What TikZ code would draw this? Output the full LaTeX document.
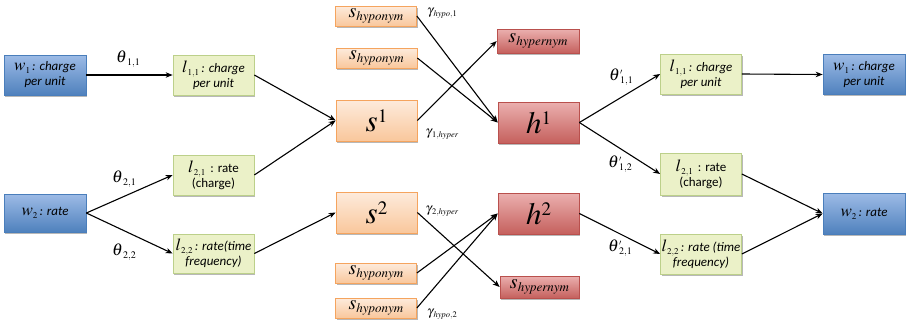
\documentclass[tikz,border=0pt]{standalone}
\usepackage{mathptmx}
\usepackage{fontspec}
\setmainfont{Carlito}
\usetikzlibrary{arrows.meta,shadows}
\definecolor{blueB}{HTML}{4A7EBB}
\definecolor{blueT}{HTML}{9DBBE6}
\definecolor{blueM}{HTML}{4F81BD}
\definecolor{greenB}{HTML}{BCD08A}
\definecolor{greenF}{HTML}{EBF1C8}
\definecolor{orB}{HTML}{F5A45E}
\definecolor{orT}{HTML}{FDEBDC}
\definecolor{orM}{HTML}{F9C79C}
\definecolor{redB}{HTML}{B9504D}
\definecolor{redT}{HTML}{EBB0AF}
\definecolor{redM}{HTML}{C5605D}
% letter with subscript (box labels)
\newcommand\lsub[2]{{\fontsize{17}{17}\selectfont$#1$}\raisebox{-0.45ex}{\fontsize{9}{9}\selectfont$#2$}}
% theta labels
\newcommand\thlab[1]{{\fontsize{17}{17}\selectfont$\theta$}\raisebox{-0.5ex}{\fontsize{10}{10}\selectfont$#1$}}
\newcommand\thplab[1]{{\fontsize{17}{17}\selectfont$\theta$}\makebox[0pt][l]{\raisebox{1.35ex}{\fontsize{8}{8}\selectfont$\prime$}}\raisebox{-0.5ex}{\fontsize{10}{10}\selectfont$#1$}}
% gamma labels
\newcommand\gmlab[1]{{\fontsize{13}{13}\selectfont$\gamma$}\raisebox{-0.45ex}{\fontsize{8.5}{8.5}\selectfont$#1$}}
% big s / h with superscript
\newcommand\bigsup[2]{{\fontsize{31}{31}\selectfont$#1$}\raisebox{1.9ex}{\fontsize{19}{19}\selectfont$#2$}}
% s with word subscript
\newcommand\ssub[1]{{\fontsize{20}{20}\selectfont$s$}\raisebox{-0.55ex}{\fontsize{13}{13}\selectfont$\mathit{#1}$}}
\begin{document}
\begin{tikzpicture}[x=1pt,y=-1pt,
  shd/.style={drop shadow={shadow xshift=1.2pt,shadow yshift=-1.8pt,opacity=0.28,fill=black}},
  bluebox/.style={shd,draw=blueB,line width=0.7pt,top color=blueT,bottom color=blueM,
    minimum width=82pt,minimum height=40pt,inner sep=1pt,align=center,
    font=\fontsize{13}{15}\selectfont},
  greenbox/.style={shd,draw=greenB,line width=0.7pt,fill=greenF,
    minimum width=81pt,minimum height=40pt,inner sep=1pt,align=center,
    font=\fontsize{13}{15}\selectfont},
  orbox/.style={shd,draw=orB,line width=0.7pt,top color=orT,bottom color=orM,
    minimum width=81pt,minimum height=41pt,inner sep=0pt},
  orsmall/.style={orbox,minimum height=20pt},
  redbox/.style={shd,draw=redB,line width=0.7pt,top color=redT,bottom color=redM,
    minimum width=81pt,minimum height=41pt,inner sep=0pt},
  redsmall/.style={redbox,minimum height=23pt},
  arr/.style={-{Stealth[length=7pt,width=5.5pt]},line width=1.1pt,black},
  lab/.style={inner sep=0pt}]
\useasboundingbox (0,0) rectangle (913,324);
% left column
\node[bluebox] (w1L) at (45,75) {\lsub{w}{1}\,{\itshape : charge}\\{\itshape per unit}};
\node[bluebox,minimum height=38pt] (w2L) at (45,213) {\lsub{w}{2}\,{\itshape : rate}};
\node[greenbox] (l11L) at (213.5,75) {\lsub{l}{1{,}1}\,{\itshape : charge}\\{\itshape per unit}};
\node[greenbox] (l21L) at (213.5,175) {\lsub{l}{2{,}1}\, : rate\\(charge)};
\node[greenbox,minimum height=39pt] (l22L) at (213.5,253.5) {\lsub{l}{2{,}2}\,{\itshape : rate(time}\\{\itshape frequency)}};
% middle
\node[orsmall] (sh1) at (376,16) {\ssub{hyponym}};
\node[orsmall] (sh2) at (376.5,58) {\ssub{hyponym}};
\node[orbox] (s1) at (376.5,120.5) {\bigsup{s}{1}};
\node[orbox] (s2) at (376.5,212.5) {\bigsup{s}{2}};
\node[orsmall] (sh3) at (376,273) {\ssub{hyponym}};
\node[orsmall] (sh4) at (376,308) {\ssub{hyponym}};
\node[redsmall,minimum width=82pt,minimum height=24pt] (shyp1) at (538,41) {\ssub{hypernym}};
\node[redbox] (h1) at (538.5,122.5) {\bigsup{h}{1}};
\node[redbox] (h2) at (538.5,213.5) {\bigsup{h}{2}};
\node[redsmall,minimum width=79pt,minimum height=22pt] (shyp2) at (539.5,287) {\ssub{hypernym}};
% right column
\node[greenbox] (l11R) at (701,74) {\lsub{l}{1{,}1}\,{\itshape : charge}\\{\itshape per unit}};
\node[greenbox,minimum height=42pt] (l21R) at (701,174) {\lsub{l}{2{,}1}\, : rate\\(charge)};
\node[greenbox] (l22R) at (701,254) {\lsub{l}{2{,}2}\,{\itshape : rate (time}\\{\itshape frequency)}};
\node[bluebox] (w1R) at (864,74.5) {\lsub{w}{1}\,{\itshape : charge}\\{\itshape per unit}};
\node[bluebox,minimum height=41pt] (w2R) at (864,213.5) {\lsub{w}{2}\,{\itshape : rate}};
% connectors
\draw[arr] (w1L.east) -- (l11L.west);
\draw[arr] (w2L.east) -- (l21L.west);
\draw[arr] (w2L.east) -- (l22L.west);
\draw[arr] (l11L.east) -- (s1.west);
\draw[arr] (l21L.east) -- (s1.west);
\draw[arr] (l22L.east) -- (s2.west);
\draw[arr] (sh1.east) -- (h1.west);
\draw[arr] (sh2.east) -- (h1.west);
\draw[arr] (s1.east) -- (shyp1.west);
\draw[arr] (s2.east) -- (shyp2.west);
\draw[arr] (sh3.east) -- (h2.west);
\draw[arr] (sh4.east) -- (h2.west);
\draw[arr] (h1.east) -- (l11R.west);
\draw[arr] (h1.east) -- (l21R.west);
\draw[arr] (h2.east) -- (l22R.west);
\draw[arr] (l11R.east) -- (w1R.west);
\draw[arr] (l21R.east) -- (w2R.west);
\draw[arr] (l22R.east) -- (w2R.west);
% labels
\node[lab] (t11) at (128,59) {\thlab{1{,}1}};
\node[lab] (t21) at (124,179) {\thlab{2{,}1}};
\node[lab] (t22) at (124,252) {\thlab{2{,}2}};
\node[lab] (g1) at (442,13) {\gmlab{\mathit{hypo}{,}1}};
\node[lab] (g2) at (442,134) {\gmlab{1{,}\mathit{hyper}}};
\node[lab] (g3) at (442,211) {\gmlab{2{,}\mathit{hyper}}};
\node[lab] (g4) at (442,314) {\gmlab{\mathit{hypo}{,}2}};
\node[lab] (tp11) at (621,77) {\thplab{1{,}1}};
\node[lab] (tp12) at (620,164) {\thplab{1{,}2}};
\node[lab] (tp21) at (620,248) {\thplab{2{,}1}};
\end{tikzpicture}
\end{document}
